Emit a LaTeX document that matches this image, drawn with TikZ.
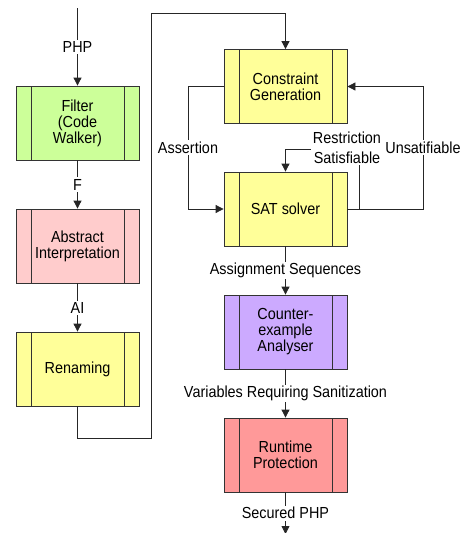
\documentclass[tikz,border=0pt]{standalone}
\usepackage{fontspec}
\setmainfont{Liberation Sans}[FakeStretch=0.9]
\usetikzlibrary{arrows.meta}
\definecolor{cgreen}{HTML}{CCFF99}
\definecolor{cpink}{HTML}{FFCCCC}
\definecolor{cyellow}{HTML}{FFFF99}
\definecolor{cpurple}{HTML}{CCAAFF}
\definecolor{cred}{HTML}{FF9999}
\begin{document}
\begin{tikzpicture}[x=1pt,y=-1pt,
  proc/.style={draw=black!80, line width=0.8pt, minimum width=123pt, minimum height=74pt,
    align=center, inner sep=0pt, font=\fontsize{16}{16}\selectfont,
    path picture={
      \draw[black!80, line width=0.8pt] ([xshift=15pt]path picture bounding box.north west) -- ([xshift=15pt]path picture bounding box.south west);
      \draw[black!80, line width=0.8pt] ([xshift=-15pt]path picture bounding box.north east) -- ([xshift=-15pt]path picture bounding box.south east);
    }},
  lab/.style={fill=white, inner sep=1.5pt, align=center, font=\fontsize{16}{16}\selectfont},
  flow/.style={draw=black!85, line width=0.8pt, -{Triangle[length=8pt,width=8pt]}}]
\useasboundingbox (0,0) rectangle (467,533);

% left column
\node[proc, fill=cgreen] (filter) at (77.5,123) {Filter\\(Code\\Walker)};
\node[proc, fill=cpink] (abs) at (77.5,246) {Abstract\\Interpretation};
\node[proc, fill=cyellow] (ren) at (77.5,369) {Renaming};

% right column
\node[proc, fill=cyellow] (cg) at (285.5,86.5) {Constraint\\Generation};
\node[proc, fill=cyellow] (sat) at (285.5,209) {SAT solver};
\node[proc, fill=cpurple] (ce) at (285.5,332) {Counter-\\example\\Analyser};
\node[proc, fill=cred] (rp) at (285.5,455) {Runtime\\Protection};

% coordinates
\coordinate (php) at (77.5,8);
\coordinate (c1) at (151,438);
\coordinate (c2) at (151,13);
\coordinate (a1) at (188,86.5);
\coordinate (a2) at (188,209);
\coordinate (u1) at (423,209);
\coordinate (u2) at (423,86.5);
\coordinate (r1) at (359,209);
\coordinate (r2) at (359,149);
\coordinate (r3) at (285.5,149);
\coordinate (out) at (285.5,534);

% connectors
\draw[flow] (php) -- node[lab] (lphp) {PHP} (filter);
\draw[flow] (filter) -- node[lab] (lf) {F} (abs);
\draw[flow] (abs) -- node[lab] (lai) {AI} (ren);
\draw[flow] (ren.south) |- (c1) -- (c2) -| (cg.north);
\draw[flow] (cg.west) -- (a1) -- node[lab] (lass) {Assertion} (a2) -- (sat.west);
\draw[flow] (sat.east) -- (u1) -- node[lab] (lun) {Unsatifiable} (u2) -- (cg.east);
\draw[flow] (r1) -- (r2) -- (r3) -- (sat.north);
\node[lab] (lres) at (347,148) {Restriction\\[4pt]Satisfiable};
\draw[flow] (sat) -- node[lab] (las) {Assignment Sequences} (ce);
\draw[flow] (ce) -- node[lab] (lvr) {Variables Requiring Sanitization} (rp);
\draw[flow] (rp) -- node[lab, pos=0.5] (lsec) {Secured PHP} (out);
\end{tikzpicture}
\end{document}
